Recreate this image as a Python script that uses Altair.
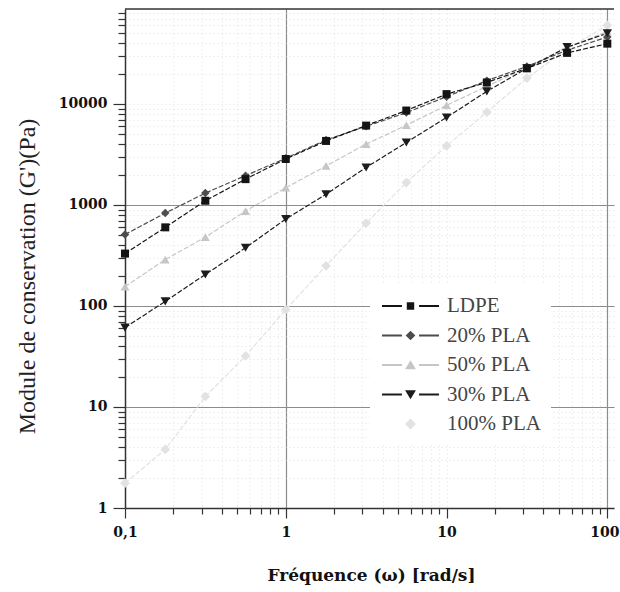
import altair as alt
import pandas as pd

# Angular frequency (rad/s), five points per decade
freq = [0.1, 0.178, 0.316, 0.562, 1.0, 1.78, 3.16, 5.62, 10.0, 17.8, 31.6, 56.2, 100.0]

# Storage modulus G' (Pa) for each blend
ldpe = [330, 600, 1100, 1800, 2850, 4300, 6100, 8600, 12500, 16300, 22500, 32000, 39500]
pla_20 = [510, 830, 1310, 1950, 2900, 4400, 6000, 8200, 11800, 17000, 23500, 34000, 46000]
pla_50 = [155, 288, 480, 870, 1480, 2430, 4000, 6150, 9700, 14900, 23000, 36000, 52000]
pla_30 = [61, 111, 205, 377, 725, 1275, 2350, 4150, 7350, 13300, 22500, 36500, 50000]
pla_100 = [1.76, 3.8, 12.7, 32, 92, 250, 660, 1665, 3840, 8300, 18000, 35000, 60000]

series_names = ["LDPE", "20% PLA", "50% PLA", "30% PLA", "100% PLA"]
series_values = [ldpe, pla_20, pla_50, pla_30, pla_100]
series_colors = ["#141414", "#4d4d4d", "#c6c6c6", "#1c1c1c", "#e2e2e2"]
marker_shapes = ["square", "diamond", "triangle-up", "triangle-down", "diamond"]
marker_sizes = [64, 95, 120, 120, 120]

# legend glyphs: short line stubs on both sides of the marker
stub = "M-1,-0.035H-0.3V0.035H-1Z M0.3,-0.035H1V0.035H0.3Z "
legend_paths = [
    stub + "M-0.13,-0.13H0.13V0.13H-0.13Z",
    stub + "M0,-0.17L0.17,0L0,0.17L-0.17,0Z",
    stub + "M0,-0.17L0.19,0.15L-0.19,0.15Z",
    stub + "M0,0.17L0.19,-0.15L-0.19,-0.15Z",
    "M0,-0.19L0.19,0L0,0.19L-0.19,0Z",
]

# long table, lightest series first so darker marks sit on top
rows = []
for name in ["100% PLA", "50% PLA", "20% PLA", "30% PLA", "LDPE"]:
    vals = series_values[series_names.index(name)]
    for f, g in zip(freq, vals):
        rows.append({"freq": f, "g": g, "series": name})
df = pd.DataFrame(rows)

W, H = 489, 499

x_ticks = [round(m * 10 ** e, 6) for e in (-1, 0, 1) for m in range(1, 10)] + [100]
y_ticks = [m * 10 ** e for e in range(0, 5) for m in range(1, 10) if m * 10 ** e <= 87000]

is_decade = "abs(log(datum.value)/LN10 - round(log(datum.value)/LN10)) < 1e-6"
x_grid = "datum.value == 1 || datum.value == 100"
y_grid = "datum.value == 10 || datum.value == 100 || datum.value == 1000"


def grid_props(test):
    return dict(
        grid=True,
        gridColor={"condition": {"test": test, "value": "#8c8c8c"}, "value": "#e0e0e0"},
        gridDash={"condition": {"test": test, "value": []}, "value": [1, 3]},
        gridWidth={"condition": {"test": test, "value": 1.2}, "value": 1},
    )


x_axis = alt.Axis(
    values=x_ticks,
    format=".1~f",
    labelExpr=f"({is_decade}) ? replace(datum.label, '.', ',') : ''",
    labelOverlap=False,
    labelFlush=False,
    labelOffset={"condition": {"test": "datum.value == 100", "value": -3}, "value": 0},
    tickSize={"condition": {"test": is_decade, "value": 10}, "value": 6},
    tickColor="#333",
    tickWidth=1.2,
    domainColor="#333",
    domainWidth=1.5,
    labelFont="DejaVu Serif",
    labelFontWeight="bold",
    labelFontSize=14,
    labelColor="#111",
    labelPadding=7,
    title="Fréquence (ω) [rad/s]",
    titleFont="DejaVu Serif",
    titleFontWeight="bold",
    titleFontSize=17,
    titleColor="#111",
    titleX=246,
    titleY=67,
    titleAlign="center",
    titleBaseline="middle",
    **grid_props(x_grid),
)

y_axis = alt.Axis(
    values=y_ticks,
    format=".1~f",
    labelExpr=f"({is_decade}) ? datum.label : ''",
    labelOverlap=False,
    labelFlush=False,
    tickSize={"condition": {"test": is_decade, "value": 12}, "value": 7},
    tickColor="#333",
    tickWidth=1.2,
    domainColor="#333",
    domainWidth=1.5,
    labelFont="DejaVu Serif",
    labelFontWeight="bold",
    labelFontSize=14,
    labelColor="#111",
    labelPadding=6,
    title="Module de conservation (G')(Pa)",
    titleFont="Liberation Serif",
    titleFontWeight="normal",
    titleFontSize=24,
    titleColor="#222",
    titleX=-98,
    titleY=267,
    titleAngle=-90,
    titleAlign="center",
    titleBaseline="middle",
    **grid_props(y_grid),
)

x_enc = alt.X("freq:Q", scale=alt.Scale(type="log", domain=[0.1, 110], nice=False), axis=x_axis)
y_enc = alt.Y("g:Q", scale=alt.Scale(type="log", domain=[1, 87000], nice=False), axis=y_axis)
color_scale = alt.Scale(domain=series_names, range=series_colors)

legend = alt.Legend(
    orient="none",
    legendX=245,
    legendY=276,
    title=None,
    padding=10,
    fillColor="white",
    symbolSize=3249,
    symbolStrokeWidth=0,
    symbolOpacity=1,
    symbolOffset=2,
    clipHeight=22,
    rowPadding=7.5,
    labelOffset=8,
    labelFont="Liberation Serif",
    labelFontSize=21,
    labelColor="#444",
    labelLimit=200,
)

base = alt.Chart(df)

lines = base.mark_line(strokeWidth=1.2, strokeDash=[5, 2]).encode(
    x=x_enc, y=y_enc,
    color=alt.Color("series:N", scale=color_scale, legend=None),
)

points = base.mark_point(filled=True, opacity=1).encode(
    x=x_enc, y=y_enc,
    color=alt.Color("series:N", scale=color_scale, legend=None),
    shape=alt.Shape("series:N", scale=alt.Scale(domain=series_names, range=marker_shapes), legend=None),
    size=alt.Size("series:N", scale=alt.Scale(domain=series_names, range=marker_sizes), legend=None),
)

# invisible layer that only carries the line-and-marker legend
legend_layer = base.mark_point(filled=True, opacity=0).encode(
    x=x_enc, y=y_enc,
    color=alt.Color("series:N", scale=color_scale, legend=legend),
    shape=alt.Shape("series:N", scale=alt.Scale(domain=series_names, range=legend_paths), legend=legend),
)

top_frame = alt.Chart(pd.DataFrame({"edge": [0]})).mark_rule(color="#333", strokeWidth=1.5).encode(
    x=alt.value(0), x2=alt.value(W), y=alt.value(0)
)

chart = (
    alt.layer(lines, points, legend_layer, top_frame)
    .resolve_scale(color="independent", shape="independent", size="independent")
    .properties(
        width=W,
        height=H,
        autosize=alt.AutoSizeParams(type="none"),
        padding={"left": 125, "top": 9, "right": 6, "bottom": 84},
        background="white",
    )
    .configure_view(strokeWidth=0)
)

chart.save("out.html", embed_options={"renderer": "svg", "actions": False})
